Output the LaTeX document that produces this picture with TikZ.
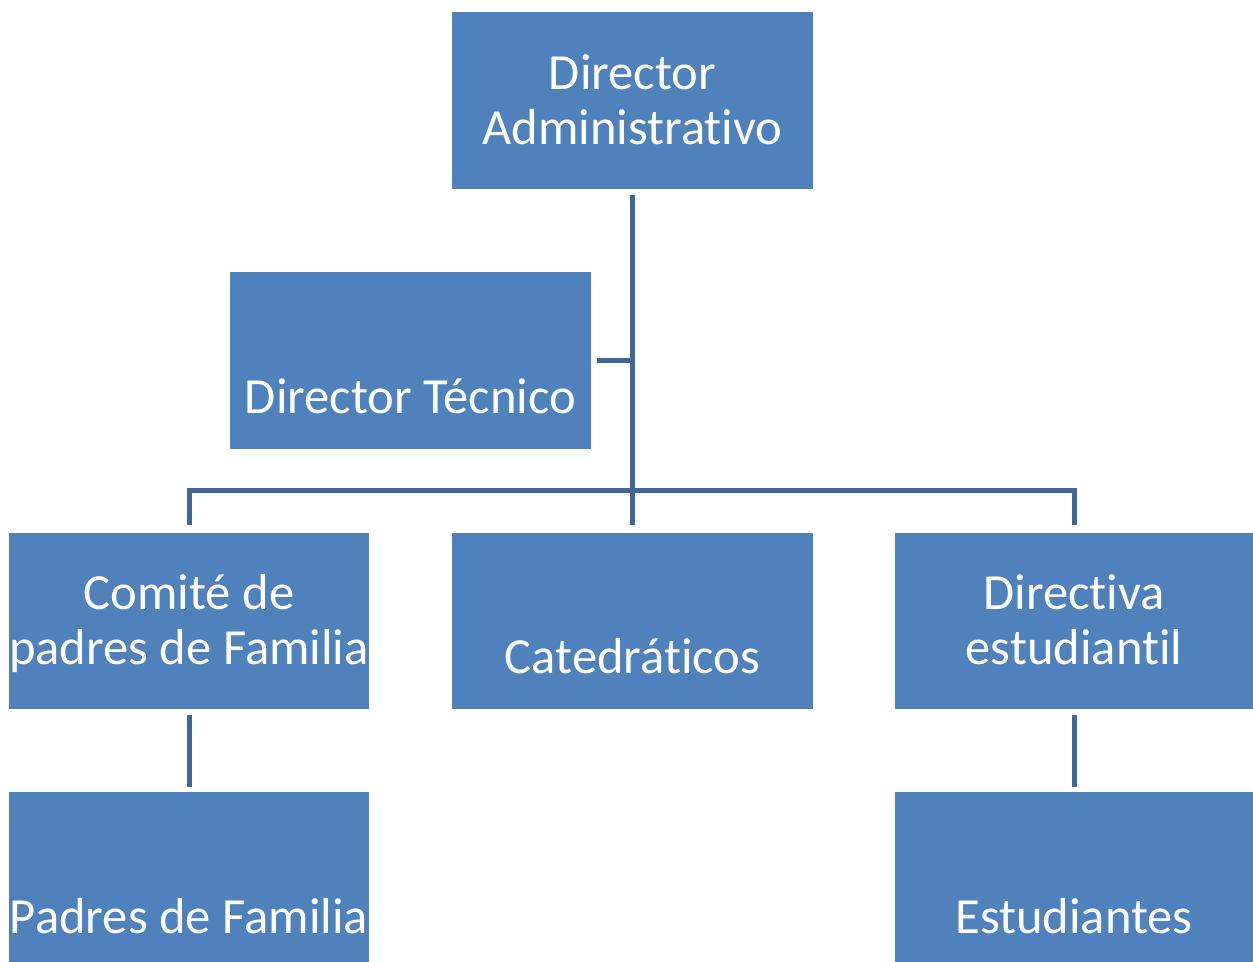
\documentclass[tikz,border=0pt]{standalone}
\usepackage{fontspec}
\setmainfont[Ligatures=NoCommon]{Carlito}
\definecolor{boxblue}{HTML}{4F81BD}
\definecolor{lineblue}{HTML}{3E6698}
\begin{document}
\begin{tikzpicture}[x=0.02cm,y=-0.02cm,
  unit/.style={fill=boxblue,minimum width=7.22cm,minimum height=3.54cm,inner sep=0pt},
  lowunit/.style={unit,minimum height=3.4cm},
  txt/.style={text=white,align=center,font=\fontsize{28.8}{31.3}\selectfont},
  link/.style={draw=lineblue,line width=0.1cm}]
\useasboundingbox (0,0) rectangle (1253,962);
% boxes
\node[unit] (adm) at (632.5,100.5) {};
\node[unit] (tec) at (410.5,360.5) {};
\node[unit] (com) at (189,621) {};
\node[unit] (cat) at (632.5,621) {};
\node[unit,minimum width=7.16cm] (dir) at (1074,621) {};
\node[lowunit] (pad) at (189,877) {};
\node[lowunit,minimum width=7.16cm] (est) at (1074,877) {};
% texts
\node[txt] at ([yshift=0.02cm]adm.center) {Director\\Administrativo};
\node[txt] at ([yshift=-0.72cm]tec.center) {Director Técnico};
\node[txt] at ([yshift=-0.05cm]com.center) {Comité de\\padres de Familia};
\node[txt] at ([yshift=-0.7cm]cat.center) {Catedráticos};
\node[txt] at ([yshift=0.02cm]dir.center) {Directiva\\estudiantil};
\node[txt] at ([yshift=-0.78cm]pad.center) {Padres de Familia};
\node[txt] at ([yshift=-0.78cm]est.center) {Estudiantes};
% connectors
\coordinate (bus) at (632.5,490);
\draw[link,shorten <=0.12cm,shorten >=0.14cm] (adm) -- (cat);
\draw[link,shorten <=0.12cm] (tec) -- (tec -| adm);
\draw[link,shorten >=0.14cm] (bus) -| (com);
\draw[link,shorten >=0.14cm] (bus) -| (dir);
\draw[link,shorten <=0.1cm,shorten >=0.1cm] (com) -- (pad);
\draw[link,shorten <=0.1cm,shorten >=0.1cm] (dir) -- (est);
\end{tikzpicture}
\end{document}
